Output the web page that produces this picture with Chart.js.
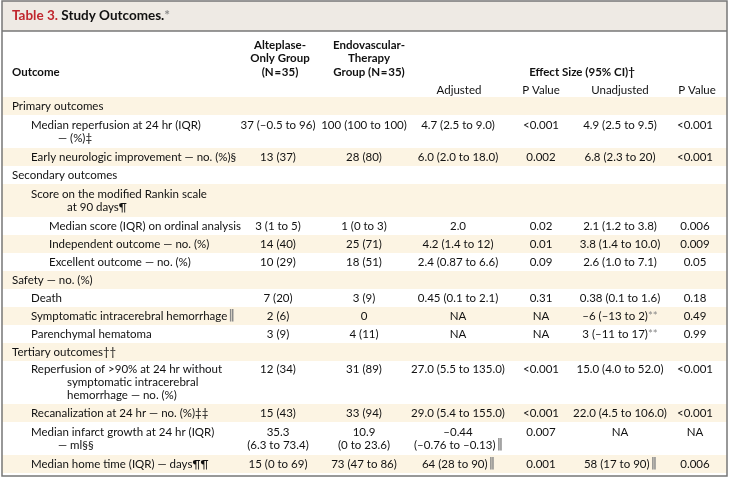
<!DOCTYPE html>
<html>
<head>
<meta charset="utf-8">
<script src="https://cdn.jsdelivr.net/npm/chart.js@4.4.1/dist/chart.umd.min.js"></script>
<style>
  html, body { margin: 0; padding: 0; background: #fff; }
  #wrap { width: 730px; height: 485px; }
</style>
</head>
<body>
<div id="wrap"><canvas id="chart" width="730" height="485"></canvas></div>
<script>
// table content
const tableNumber = "Table 3.";
const tableTitle = "Study Outcomes.*";
const outcomeHeader = "Outcome";
const groupHeaders = [
  ["Alteplase-", "Only Group", "(N\u200a=\u200a35)"],
  ["Endovascular-", "Therapy", "Group (N\u200a=\u200a35)"]
];
const effectHeader = "Effect Size (95% CI)†";
const effectSubHeaders = ["Adjusted", "P Value", "Unadjusted", "P Value"];

const outcomeLabels = [
  ["Primary outcomes"],
  ["Median reperfusion at 24 hr (IQR)", "— (%)‡"],
  ["Early neurologic improvement — no. (%)§"],
  ["Secondary outcomes"],
  ["Score on the modified Rankin scale", "at 90 days¶"],
  ["Median score (IQR) on ordinal analysis"],
  ["Independent outcome — no. (%)"],
  ["Excellent outcome — no. (%)"],
  ["Safety — no. (%)"],
  ["Death"],
  ["Symptomatic intracerebral hemorrhage‖"],
  ["Parenchymal hematoma"],
  ["Tertiary outcomes††"],
  ["Reperfusion of >90% at 24 hr without", "symptomatic intracerebral", "hemorrhage — no. (%)"],
  ["Recanalization at 24 hr — no. (%)‡‡"],
  ["Median infarct growth at 24 hr (IQR)", "— ml§§"],
  ["Median home time (IQR) — days¶¶"]
];
const indentLevels = [0, 1, 1, 0, 1, 2, 2, 2, 0, 1, 1, 1, 0, 1, 1, 1, 1];

const alteplaseOnly = ["", "37 (–0.5 to 96)", "13 (37)", "", "", "3 (1 to 5)", "14 (40)", "10 (29)", "",
  "7 (20)", "2 (6)", "3 (9)", "", "12 (34)", "15 (43)", ["35.3", "(6.3 to 73.4)"], "15 (0 to 69)"];
const endovascular = ["", "100 (100 to 100)", "28 (80)", "", "", "1 (0 to 3)", "25 (71)", "18 (51)", "",
  "3 (9)", "0", "4 (11)", "", "31 (89)", "33 (94)", ["10.9", "(0 to 23.6)"], "73 (47 to 86)"];
const adjustedEffect = ["", "4.7 (2.5 to 9.0)", "6.0 (2.0 to 18.0)", "", "", "2.0", "4.2 (1.4 to 12)", "2.4 (0.87 to 6.6)", "",
  "0.45 (0.1 to 2.1)", "NA", "NA", "", "27.0 (5.5 to 135.0)", "29.0 (5.4 to 155.0)", ["–0.44", "(–0.76 to –0.13)‖"], "64 (28 to 90)‖"];
const adjustedP = ["", "<0.001", "0.002", "", "", "0.02", "0.01", "0.09", "",
  "0.31", "NA", "NA", "", "<0.001", "<0.001", "0.007", "0.001"];
const unadjustedEffect = ["", "4.9 (2.5 to 9.5)", "6.8 (2.3 to 20)", "", "", "2.1 (1.2 to 3.8)", "3.8 (1.4 to 10.0)", "2.6 (1.0 to 7.1)", "",
  "0.38 (0.1 to 1.6)", "–6 (–13 to 2)**", "3 (–11 to 17)**", "", "15.0 (4.0 to 52.0)", "22.0 (4.5 to 106.0)", "NA", "58 (17 to 90)‖"];
const unadjustedP = ["", "<0.001", "<0.001", "", "", "0.006", "0.009", "0.05", "",
  "0.18", "0.49", "0.99", "", "<0.001", "<0.001", "NA", "0.006"];

// layout / style
const FONT = "Lato, 'Noto Sans', sans-serif";
const fontSize = 11.5;
const textColor = "#111111";
const markColor = "#8a8a8a";
const creamFill = "#fcf4e3";
const titleFill = "#eeeae4";
const borderColor = "#777777";
const frame = { left: 2, right: 727, top: 1, bottom: 476, titleBottom: 31 };
const bodyTop = 97;
const rowHeightByLines = { 1: 18, 2: 33, 3: 43 };
const lineStep = 13;
const indentX = [12, 31, 49];
const wrapIndentX = 67, dashWrapIndentX = 58;
const valueColumns = [
  { values: alteplaseOnly, x: 278 },
  { values: endovascular, x: 364 },
  { values: adjustedEffect, x: 458 },
  { values: adjustedP, x: 541 },
  { values: unadjustedEffect, x: 620 },
  { values: unadjustedP, x: 695 }
];
const groupHeaderX = [280, 369];
const subHeaderX = [459, 541, 620, 697];
const effectHeaderX = 582;
const headerLineY = [45, 58, 72];
const subHeaderY = 90;
const titleY = 16;

const asLines = v => Array.isArray(v) ? v : (v ? [v] : []);

// row geometry derived from line counts
const rows = [];
let rowTop = bodyTop;
outcomeLabels.forEach((label, i) => {
  const n = Math.max(label.length, ...valueColumns.map(c => asLines(c.values[i]).length));
  const h = rowHeightByLines[n];
  rows.push({ top: rowTop, bottom: rowTop + h, center: rowTop + h / 2, lines: n });
  rowTop += h;
});

// every cell starts on the first text line of its row
function lineYs(row) {
  const first = row.center - (row.lines - 1) * lineStep / 2;
  return Array.from({ length: row.lines }, (_, k) => first + k * lineStep);
}

const datasets = [];
datasets.push({
  label: "Outcome",
  data: outcomeLabels.flatMap((label, i) => {
    const ys = lineYs(rows[i]);
    return label.map((t, k) => ({
      x: k === 0 ? indentX[indentLevels[i]] : (t.startsWith("—") ? dashWrapIndentX : wrapIndentX),
      y: ys[k], text: t, align: "left"
    }));
  })
});
valueColumns.forEach((col, c) => {
  datasets.push({
    label: "col" + c,
    data: col.values.flatMap((v, i) => {
      const ys = lineYs(rows[i]);
      return asLines(v).map((t, k) => ({ x: col.x, y: ys[k], text: t, align: "center" }));
    })
  });
});

function runFont(ctx, kind, base) {
  if (kind === "bar") return "bold " + (fontSize + 1.5) + "px 'DejaVu Sans', sans-serif";
  return base;
}

function drawRich(ctx, text, x, y, align) {
  const base = ctx.font;
  const runs = [];
  let cur = "", kind = "text";
  for (const ch of text) {
    const k = ch === "‖" ? "bar" : (ch === "*" ? "star" : "text");
    if (k !== kind && cur) { runs.push([cur, kind]); cur = ""; }
    kind = k;
    cur += ch;
  }
  if (cur) runs.push([cur, kind]);
  const widths = runs.map(([t, k]) => { ctx.font = runFont(ctx, k, base); return ctx.measureText(t).width; });
  const w = widths.reduce((s, v) => s + v, 0);
  let sx = align === "center" ? x - w / 2 : (align === "right" ? x - w : x);
  ctx.textAlign = "left";
  runs.forEach(([t, k], i) => {
    ctx.font = runFont(ctx, k, base);
    ctx.fillStyle = k === "text" ? textColor : markColor;
    ctx.fillText(t, sx + (k === "bar" ? 1 : 0), y);
    sx += widths[i];
  });
  ctx.font = base;
}

const tablePlugin = {
  id: "tablePlugin",
  beforeDatasetsDraw(chart) {
    const { ctx, scales: { x, y } } = chart;
    const L = x.getPixelForValue(frame.left), R = x.getPixelForValue(frame.right);
    ctx.save();
    ctx.fillStyle = titleFill;
    ctx.fillRect(L, y.getPixelForValue(frame.top), R - L, y.getPixelForValue(frame.titleBottom) - y.getPixelForValue(frame.top));
    ctx.fillStyle = creamFill;
    rows.forEach((r, i) => {
      if (i % 2 === 0) {
        const t = y.getPixelForValue(r.top), b = y.getPixelForValue(r.bottom);
        ctx.fillRect(L, t, R - L, b - t);
      }
    });
    ctx.restore();
  },
  afterDatasetsDraw(chart) {
    const { ctx, scales: { x, y } } = chart;
    ctx.save();
    ctx.textBaseline = "middle";

    // title
    ctx.font = "bold 13.5px " + FONT;
    ctx.textAlign = "left";
    let tx = x.getPixelForValue(12), ty = y.getPixelForValue(titleY);
    ctx.fillStyle = "#c0262d";
    ctx.fillText(tableNumber, tx, ty);
    tx += ctx.measureText(tableNumber + " ").width;
    drawRich(ctx, tableTitle, tx, ty, "left");

    // header
    ctx.font = "bold " + fontSize + "px " + FONT;
    drawRich(ctx, outcomeHeader, x.getPixelForValue(indentX[0]), y.getPixelForValue(headerLineY[2]), "left");
    groupHeaders.forEach((lines, g) => {
      lines.forEach((t, k) => drawRich(ctx, t, x.getPixelForValue(groupHeaderX[g]), y.getPixelForValue(headerLineY[k]), "center"));
    });
    drawRich(ctx, effectHeader, x.getPixelForValue(effectHeaderX), y.getPixelForValue(headerLineY[2]), "center");
    ctx.font = fontSize + "px " + FONT;
    effectSubHeaders.forEach((t, k) => drawRich(ctx, t, x.getPixelForValue(subHeaderX[k]), y.getPixelForValue(subHeaderY), "center"));

    // body cells
    chart.data.datasets.forEach((ds, d) => {
      const meta = chart.getDatasetMeta(d);
      meta.data.forEach((pt, i) => {
        const cell = ds.data[i];
        drawRich(ctx, cell.text, pt.x, pt.y, cell.align);
      });
    });

    // frame
    const L = x.getPixelForValue(frame.left), R = x.getPixelForValue(frame.right);
    const T = y.getPixelForValue(frame.top), B = y.getPixelForValue(frame.bottom);
    ctx.strokeStyle = borderColor;
    ctx.lineWidth = 1.5;
    ctx.strokeRect(L, T, R - L, B - T);
    ctx.beginPath();
    ctx.moveTo(L, y.getPixelForValue(frame.titleBottom));
    ctx.lineTo(R, y.getPixelForValue(frame.titleBottom));
    ctx.stroke();
    ctx.restore();
  }
};

new Chart(document.getElementById("chart"), {
  type: "scatter",
  data: { datasets: datasets },
  options: {
    responsive: false,
    animation: false,
    events: [],
    layout: { padding: 0 },
    elements: { point: { radius: 0, hoverRadius: 0 } },
    plugins: { legend: { display: false }, tooltip: { enabled: false } },
    scales: {
      x: { type: "linear", display: false, min: 0, max: 730 },
      y: { type: "linear", display: false, min: 0, max: 485, reverse: true }
    }
  },
  plugins: [tablePlugin]
});
</script>
</body>
</html>
